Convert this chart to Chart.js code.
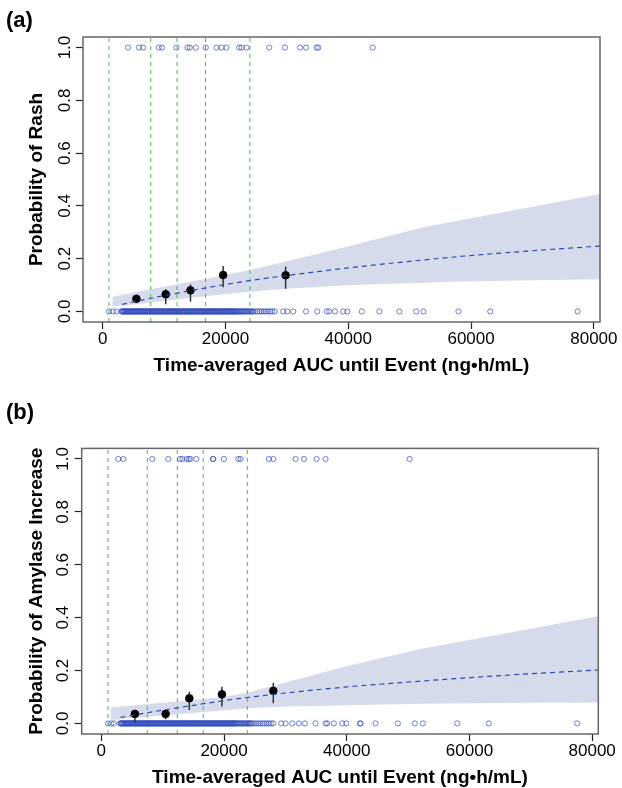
<!DOCTYPE html>
<html>
<head>
<meta charset="utf-8">
<script src="https://cdn.jsdelivr.net/npm/chart.js@4.4.1/dist/chart.umd.min.js"></script>
<style>
  body { margin: 0; background: #fff; width: 622px; height: 788px; position: relative; overflow: hidden; font-family: "Liberation Sans", Arial, sans-serif; }
  .panel { position: absolute; left: 0; width: 622px; height: 394px; }
  .tag { position: absolute; left: 6px; font-weight: bold; font-size: 22px; line-height: 25px; }
</style>
</head>
<body>
<div class="panel" style="top:0"><canvas id="rash" width="622" height="394"></canvas></div>
<div class="panel" style="top:394px"><canvas id="amylase" width="622" height="394"></canvas></div>
<div class="tag" style="top:7px">(a)</div>
<div class="tag" style="top:399px">(b)</div>
<script>
// Axis ticks
const aucTicks = [0, 20000, 40000, 60000, 80000];
const probTicks = [0, 0.2, 0.4, 0.6, 0.8, 1.0];

// Patients without event: the crowded band of AUC values shared by both panels
const cohortDenseAuc = [
  3050, 3170, 3290, 3400, 3480, 3610, 3760, 3880, 3990, 4090, 4210, 4350, 4470, 4580, 4690, 4820,
  4940, 5050, 5180, 5290, 5400, 5530, 5660, 5770, 5890, 6000, 6120, 6250, 6370, 6480, 6590, 6720,
  6840, 6950, 7060, 7190, 7310, 7420, 7530, 7660, 7790, 7900, 8020, 8130, 8250, 8370, 8490, 8610,
  8730, 8840, 8960, 9080, 9200, 9330, 9450, 9560, 9680, 9790, 9910, 10040, 10160, 10270, 10390, 10510,
  10630, 10750, 10870, 10980, 11100, 11230, 11350, 11460, 11580, 11700, 11820, 11940, 12060, 12170,
  12290, 12420, 12540, 12650, 12770, 12890, 13010, 13130, 13250, 13370, 13490, 13600, 13720, 13840,
  13960, 14080, 14200, 14330, 14450, 14560, 14680, 14800, 14920, 15040, 15160, 15270, 15390, 15520,
  15640, 15750, 15870, 15990, 16110, 16230, 16350, 16470, 16590, 16700, 16820, 16940, 17060, 17180,
  17300, 17420, 17540, 17660, 17780, 17890, 18010, 18140, 18260, 18370, 18490, 18610, 18730, 18850,
  18970, 19090, 19210, 19330, 19450, 19560, 19680, 19800, 19920, 20050, 20170, 20280, 20400, 20520,
  20640, 20760, 20880, 21000, 21120, 21240, 21360, 21470, 21590, 21710, 21830, 21960, 22100, 22280,
  22460, 22620, 22790, 22970, 23150, 23310, 23480, 23650, 23820, 24000, 24170, 24350, 24530, 24860,
  25210, 25570, 25900, 26260, 26590, 26950, 27300, 27640, 28020
];

// Panel (a): rash
const rashEventAuc = [4127, 5921, 6573, 9134, 9672, 12021, 13815, 14190, 15169, 16800, 18545, 19361,
  20176, 22231, 22623, 23438, 27125, 29686, 32132, 33111, 34856, 35117, 43989];
const rashNoEventLow = [1028, 1680, 2235];
const rashNoEventHigh = [29410, 30060, 31040, 33110, 34950, 36490, 36910, 37840, 39190, 39850, 42200,
  45070, 48330, 51050, 52240, 57950, 63120, 77360];
const rashCutAuc = [1030, 7830, 12120, 16750, 23990];
const rashBinAuc = [5497, 10276, 14304, 19622, 29800];
const rashBinProb = [0.048, 0.065, 0.080, 0.138, 0.137];
const rashBinLow = [0.040, 0.027, 0.037, 0.092, 0.086];
const rashBinHigh = [0.057, 0.084, 0.102, 0.172, 0.170];
const rashFitAuc = [3150, 10000, 20000, 23980, 30000, 40000, 52250, 60000, 70000, 81060];
const rashFitProb = [0.027, 0.060, 0.102, 0.117, 0.136, 0.165, 0.195, 0.212, 0.230, 0.248];
const rashBandAuc = [1580, 10000, 20000, 23980, 30000, 39750, 52250, 60000, 70000, 81060];
const rashBandLower = [0.018, 0.040, 0.066, 0.075, 0.086, 0.099, 0.109, 0.114, 0.118, 0.122];
const rashBandUpper = [0.056, 0.094, 0.138, 0.157, 0.190, 0.245, 0.319, 0.353, 0.397, 0.445];

// Panel (b): amylase increase
const amyEventAuc = [2770, 3585, 8310, 10918, 12808, 13199, 13900, 14274, 14551, 15480, 18185, 18250,
  19977, 22323, 22700, 27310, 28027, 31660, 33013, 35082, 36549, 50236];
const amyNoEventLow = [1075, 1630, 2053];
const amyNoEventHigh = [29330, 30030, 31120, 32200, 33180, 34920, 36550, 36830, 37900, 39270, 39920,
  42140, 42250, 44700, 48330, 51100, 52400, 58010, 63160, 77560];
const amyCutAuc = [1075, 7495, 12384, 16620, 23790];
const amyBinAuc = [5475, 10478, 14340, 19652, 28030];
const amyBinProb = [0.036, 0.036, 0.095, 0.110, 0.123];
const amyBinLow = [0.004, 0.016, 0.051, 0.064, 0.076];
const amyBinHigh = [0.050, 0.048, 0.120, 0.139, 0.154];
const amyFitAuc = [3145, 10000, 20000, 23790, 30000, 40000, 50940, 60000, 70000, 81080];
const amyFitProb = [0.023, 0.050, 0.086, 0.098, 0.115, 0.138, 0.158, 0.173, 0.188, 0.202];
const amyBandAuc = [1515, 10000, 20000, 23790, 30000, 40085, 52030, 60000, 70000, 81080];
const amyBandLower = [0.013, 0.030, 0.050, 0.057, 0.064, 0.069, 0.074, 0.076, 0.078, 0.079];
const amyBandUpper = [0.060, 0.078, 0.100, 0.116, 0.155, 0.217, 0.281, 0.315, 0.358, 0.406];

const FONT = '"Liberation Sans", Arial, sans-serif';
Chart.defaults.font.family = FONT;

const toPoints = (xs, ys) => xs.map((x, i) => ({ x: x, y: ys[i] }));
const atLevel = (xs, level) => xs.map(x => ({ x: x, y: level }));

// Draw y tick labels parallel to the axis, like R does
const rotatedYLabels = {
  id: 'rotatedYLabels',
  afterDraw(chart) {
    const yScale = chart.scales.y;
    const ctx = chart.ctx;
    ctx.save();
    ctx.font = '17px ' + FONT;
    ctx.fillStyle = '#000';
    ctx.textAlign = 'center';
    ctx.textBaseline = 'middle';
    yScale.ticks.forEach(t => {
      ctx.save();
      ctx.translate(chart.chartArea.left - 18, yScale.getPixelForValue(t.value));
      ctx.rotate(-Math.PI / 2);
      ctx.fillText(t.value.toFixed(1), 0, 0);
      ctx.restore();
    });
    ctx.restore();
  }
};

// Plot frame
const plotBox = {
  id: 'plotBox',
  afterDatasetsDraw(chart) {
    const a = chart.chartArea;
    const ctx = chart.ctx;
    ctx.save();
    ctx.strokeStyle = '#666';
    ctx.lineWidth = 1.5;
    ctx.strokeRect(a.left, a.top, a.right - a.left, a.bottom - a.top);
    ctx.restore();
  }
};

function buildChart(canvasId, p) {
  const datasets = [];

  // confidence band
  datasets.push({ data: toPoints(p.bandAuc, p.bandLower), borderColor: 'rgba(0,0,0,0)', pointRadius: 0, fill: false, order: 6 });
  datasets.push({ data: toPoints(p.bandAuc, p.bandUpper), borderColor: 'rgba(0,0,0,0)', pointRadius: 0,
    fill: '-1', backgroundColor: '#d6dbeb', order: 6 });

  // vertical dashed bin boundaries
  p.cutAuc.forEach(x => {
    datasets.push({ data: [{ x: x, y: -0.04 }, { x: x, y: 1.04 }], borderColor: '#3fbf3f', borderWidth: 1,
      borderDash: [4, 4], pointRadius: 0, order: 5 });
  });

  // observed outcomes
  const circle = { showLine: false, pointRadius: 2.6, pointBorderWidth: 1, pointBorderColor: 'rgba(50,75,190,0.7)',
    pointBackgroundColor: 'rgba(0,0,0,0)', order: 4 };
  datasets.push(Object.assign({ data: atLevel(p.eventAuc, 1) }, circle));
  datasets.push(Object.assign({ data: atLevel(p.noEventLow.concat(cohortDenseAuc, p.noEventHigh), 0) }, circle));

  // binned observed proportions with error bars
  p.binAuc.forEach((x, i) => {
    datasets.push({ data: [{ x: x, y: p.binLow[i] }, { x: x, y: p.binHigh[i] }], borderColor: '#333',
      borderWidth: 1.5, pointRadius: 0, order: 3 });
  });
  datasets.push({ data: toPoints(p.binAuc, p.binProb), showLine: false, pointRadius: 3.8,
    pointBackgroundColor: '#000', pointBorderColor: '#000', order: 2 });

  // model fit
  datasets.push({ data: toPoints(p.fitAuc, p.fitProb), borderColor: '#2f48b0', borderWidth: 1.2,
    borderDash: [5, 4], pointRadius: 0, cubicInterpolationMode: 'monotone', order: 1 });

  return new Chart(document.getElementById(canvasId), {
    type: 'line',
    data: { datasets: datasets },
    options: {
      responsive: false,
      animation: false,
      events: [],
      layout: { padding: { top: p.top, right: p.right, left: 0, bottom: 0 } },
      plugins: { legend: { display: false }, tooltip: { enabled: false } },
      scales: {
        x: {
          type: 'linear', min: -3200, max: 81000,
          afterBuildTicks: s => { s.ticks = aucTicks.map(v => ({ value: v })); },
          afterFit: s => { s.height = p.xHeight; },
          grid: { drawOnChartArea: false, tickLength: 7, tickColor: '#222', tickWidth: 1.2 },
          border: { display: false },
          ticks: { color: '#000', font: { size: 17 }, padding: 0, maxRotation: 0, autoSkip: false,
            callback: v => String(v) },
          title: { display: true, text: 'Time-averaged AUC until Event (ng•h/mL)', color: '#000',
            font: { size: 19, weight: 'bold' }, padding: { top: 0, bottom: p.xTitlePad } }
        },
        y: {
          type: 'linear', min: -0.04, max: 1.04,
          afterBuildTicks: s => { s.ticks = probTicks.map(v => ({ value: v })); },
          afterFit: s => { s.width = p.yWidth; },
          grid: { drawOnChartArea: false, tickLength: 7, tickColor: '#222', tickWidth: 1.2 },
          border: { display: false },
          ticks: { display: false },
          title: { display: true, text: p.yTitle, color: '#000', font: { size: 19, weight: 'bold' },
            padding: { top: 25.6, bottom: 0 } }
        }
      }
    },
    plugins: [rotatedYLabels, plotBox]
  });
}

buildChart('rash', {
  top: 37, right: 22, yWidth: 83, xHeight: 72, xTitlePad: 16.6, yTitle: 'Probability of Rash',
  eventAuc: rashEventAuc, noEventLow: rashNoEventLow, noEventHigh: rashNoEventHigh, cutAuc: rashCutAuc,
  binAuc: rashBinAuc, binProb: rashBinProb, binLow: rashBinLow, binHigh: rashBinHigh,
  fitAuc: rashFitAuc, fitProb: rashFitProb, bandAuc: rashBandAuc, bandLower: rashBandLower, bandUpper: rashBandUpper
});

buildChart('amylase', {
  top: 54.4, right: 23.7, yWidth: 81.7, xHeight: 54, xTitlePad: -1.5, yTitle: 'Probability of Amylase Increase',
  eventAuc: amyEventAuc, noEventLow: amyNoEventLow, noEventHigh: amyNoEventHigh, cutAuc: amyCutAuc,
  binAuc: amyBinAuc, binProb: amyBinProb, binLow: amyBinLow, binHigh: amyBinHigh,
  fitAuc: amyFitAuc, fitProb: amyFitProb, bandAuc: amyBandAuc, bandLower: amyBandLower, bandUpper: amyBandUpper
});
</script>
</body>
</html>
